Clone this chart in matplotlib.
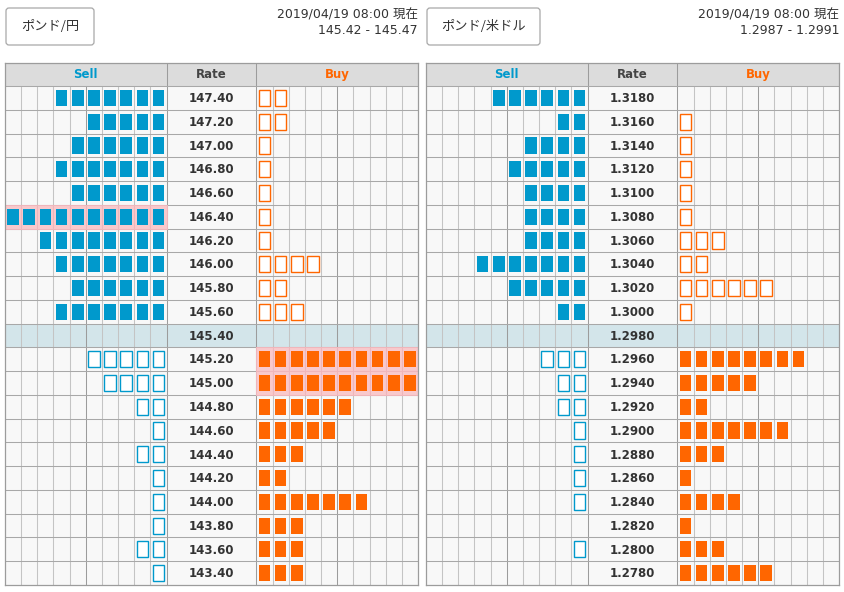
import matplotlib.pyplot as plt
from matplotlib.patches import Rectangle, FancyBboxPatch

plt.rcParams['font.family'] = ['DejaVu Sans', 'Noto Sans CJK JP']

# ---- data -------------------------------------------------------------
jpy_rates = ['147.40', '147.20', '147.00', '146.80', '146.60', '146.40', '146.20',
             '146.00', '145.80', '145.60', '145.40', '145.20', '145.00', '144.80',
             '144.60', '144.40', '144.20', '144.00', '143.80', '143.60', '143.40']
jpy_sell_filled = [7, 5, 6, 7, 6, 10, 8, 7, 6, 7, 0, 0, 0, 0, 0, 0, 0, 0, 0, 0, 0]
jpy_sell_hollow = [0, 0, 0, 0, 0, 0, 0, 0, 0, 0, 0, 5, 4, 2, 1, 2, 1, 1, 1, 2, 1]
jpy_buy_hollow = [2, 2, 1, 1, 1, 1, 1, 4, 2, 3, 0, 0, 0, 0, 0, 0, 0, 0, 0, 0, 0]
jpy_buy_filled = [0, 0, 0, 0, 0, 0, 0, 0, 0, 0, 0, 10, 10, 6, 5, 3, 2, 7, 3, 3, 3]

usd_rates = ['1.3180', '1.3160', '1.3140', '1.3120', '1.3100', '1.3080', '1.3060',
             '1.3040', '1.3020', '1.3000', '1.2980', '1.2960', '1.2940', '1.2920',
             '1.2900', '1.2880', '1.2860', '1.2840', '1.2820', '1.2800', '1.2780']
usd_sell_filled = [6, 2, 4, 5, 4, 4, 4, 7, 5, 2, 0, 0, 0, 0, 0, 0, 0, 0, 0, 0, 0]
usd_sell_hollow = [0, 0, 0, 0, 0, 0, 0, 0, 0, 0, 0, 3, 2, 2, 1, 1, 1, 1, 0, 1, 0]
usd_buy_hollow = [0, 1, 1, 1, 1, 1, 3, 2, 6, 1, 0, 0, 0, 0, 0, 0, 0, 0, 0, 0, 0]
usd_buy_filled = [0, 0, 0, 0, 0, 0, 0, 0, 0, 0, 0, 8, 5, 2, 7, 3, 1, 4, 1, 3, 6]

current_row = 10

BLUE = '#0099cc'
ORANGE = '#ff6600'
RATE_W = 5.55
HEAD_H = 0.97


def draw_board(ax, rates, sell_filled, sell_hollow, buy_filled, buy_hollow):
    n = len(rates)
    buy0 = 10 + RATE_W
    total = buy0 + 10

    # backgrounds
    ax.add_patch(Rectangle((0, -HEAD_H), total, HEAD_H, facecolor='#dcdcdc',
                           edgecolor='none', zorder=0))
    for i in range(n):
        bg = '#d3e5ea' if i == current_row else '#f8f8f8'
        ax.add_patch(Rectangle((0, i), total, 1, facecolor=bg, edgecolor='none', zorder=0))

    # grid
    lw = 0.75
    minor = [k for k in range(1, 10) if k != 5]
    ax.vlines(minor, 0, n, color='#c4c4c4', lw=lw, zorder=1)
    ax.vlines([buy0 + k for k in minor], 0, n, color='#c4c4c4', lw=lw, zorder=1)
    ax.vlines([5, buy0 + 5], 0, n, color='#9c9c9c', lw=lw, zorder=1)
    ax.vlines([10, buy0], -HEAD_H, n, color='#9c9c9c', lw=lw, zorder=1)
    ax.hlines(range(0, n), 0, total, color='#a8a8a8', lw=lw, zorder=1)

    # highlighted rows (full depth)
    for i in range(n):
        if sell_filled[i] >= 10:
            for k in range(10):
                ax.add_patch(Rectangle((k, i), 1, 1, facecolor='#f9c9cc',
                                       edgecolor='#efb6bb', lw=lw, zorder=2))
        if buy_filled[i] >= 10:
            for k in range(10):
                ax.add_patch(Rectangle((buy0 + k, i), 1, 1, facecolor='#f9c9cc',
                                       edgecolor='#efb6bb', lw=lw, zorder=2))

    # markers
    bw, bh = 0.72, 0.68
    for i in range(n):
        y0 = i + (1 - bh) / 2
        if sell_filled[i]:
            xs = [9.5 - j for j in range(sell_filled[i])]
            ax.bar(xs, bh, bottom=y0, width=bw, color=BLUE, zorder=3)
        if sell_hollow[i]:
            xs = [9.5 - j for j in range(sell_hollow[i])]
            ax.bar(xs, bh, bottom=y0, width=bw, facecolor='white', edgecolor=BLUE,
                   lw=1.0, zorder=3)
        if buy_filled[i]:
            xs = [buy0 + 0.5 + j for j in range(buy_filled[i])]
            ax.bar(xs, bh, bottom=y0, width=bw, color=ORANGE, zorder=3)
        if buy_hollow[i]:
            xs = [buy0 + 0.5 + j for j in range(buy_hollow[i])]
            ax.bar(xs, bh, bottom=y0, width=bw, facecolor='white', edgecolor=ORANGE,
                   lw=1.0, zorder=3)
        ax.text(10 + RATE_W / 2, i + 0.53, rates[i], ha='center', va='center',
                fontsize=8.5, fontweight='bold', color='#333333', zorder=4)

    ax.text(5, -HEAD_H / 2, 'Sell', ha='center', va='center', fontsize=8.5,
            fontweight='bold', color=BLUE)
    ax.text(10 + RATE_W / 2, -HEAD_H / 2, 'Rate', ha='center', va='center',
            fontsize=8.5, fontweight='bold', color='#444444')
    ax.text(buy0 + 5, -HEAD_H / 2, 'Buy', ha='center', va='center', fontsize=8.5,
            fontweight='bold', color=ORANGE)

    ax.set_xlim(0, total)
    ax.set_ylim(n, -HEAD_H)
    ax.set_xticks([])
    ax.set_yticks([])
    for s in ax.spines.values():
        s.set_color('#9c9c9c')
        s.set_linewidth(0.9)


W, H = 844, 592
fig = plt.figure(figsize=(W / 100, H / 100), dpi=100)

# overlay in pixel coordinates for buttons and captions
top = fig.add_axes([0, 0, 1, 1])
top.set_xlim(0, W)
top.set_ylim(H, 0)
top.axis('off')

panels = [
    (5, 'ポンド/円', 90, '145.42 - 145.47',
     jpy_rates, jpy_sell_filled, jpy_sell_hollow, jpy_buy_filled, jpy_buy_hollow),
    (426, 'ポンド/米ドル', 115, '1.2987 - 1.2991',
     usd_rates, usd_sell_filled, usd_sell_hollow, usd_buy_filled, usd_buy_hollow),
]

for x0, name, btn_w, spread, rates, sf, sh, bf, bh_ in panels:
    top.add_patch(FancyBboxPatch((x0 + 1, 8), btn_w - 2, 37,
                                 boxstyle='round,pad=0,rounding_size=3',
                                 facecolor='white', edgecolor='#a8a8a8', lw=0.9))
    top.text(x0 + btn_w / 2, 27, name, ha='center', va='center', fontsize=9.5,
             family=['Noto Sans CJK JP'], color='#333333')
    top.text(x0 + 413, 15, '2019/04/19 08:00 現在', ha='right', va='center',
             fontsize=9, color='#333333')
    top.text(x0 + 413, 30, spread, ha='right', va='center', fontsize=9,
             color='#333333')

    ax = fig.add_axes([x0 / W, (H - 585) / H, 413 / W, (585 - 63) / H])
    draw_board(ax, rates, sf, sh, bf, bh_)

fig.savefig('out.png', dpi=100)
